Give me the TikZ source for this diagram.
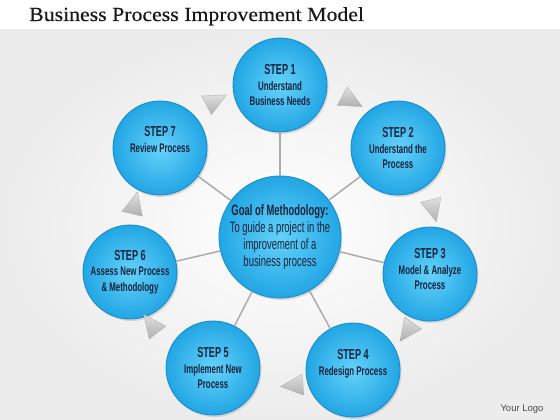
\documentclass[tikz,border=0pt]{standalone}
\usepackage{fontspec}
\setmainfont{Liberation Serif}
\newfontfamily\titlefont[FakeStretch=1.09,FakeBold=0.4]{Liberation Serif}
\newfontfamily\condA[FakeStretch=0.63]{Liberation Sans}
\newfontfamily\logofont{Liberation Sans}
\usetikzlibrary{shapes.geometric,shadows,calc}
\definecolor{navy}{RGB}{20,35,60}
\definecolor{cin}{RGB}{100,210,250}
\definecolor{cout}{RGB}{34,166,228}
\definecolor{cedge}{RGB}{22,138,205}
\newcommand\stephead[1]{{\fontsize{14.5}{16}\selectfont #1}}
\begin{document}
\begin{tikzpicture}[x=1pt,y=-1pt,
  stepnode/.style={circle, minimum size=94pt, inner sep=0pt, draw=cedge, line width=0.8pt,
    inner color=cin, outer color=cout,
    drop shadow={opacity=0.25, shadow xshift=1.5pt, shadow yshift=-2pt},
    align=center, text=navy, font=\condA\bfseries\fontsize{12.5}{15.5}\selectfont},
  goalnode/.style={stepnode, minimum size=122pt, font=\condA\fontsize{15}{17}\selectfont},
  spoke/.style={draw=gray!65, line width=1.5pt},
  arrtri/.style={isosceles triangle, isosceles triangle apex angle=50, inner sep=0pt,
    minimum size=21pt, draw=gray!60, top color=gray!25, bottom color=gray!62,
    sloped, allow upside down},
  titletext/.style={font=\titlefont\fontsize{20}{24}\selectfont, text=black!90},
  logotext/.style={font=\logofont\fontsize{9.5}{11}\selectfont, text=black!70}
]
\useasboundingbox (0,0) rectangle (560,420);
\fill[white] (0,0) rectangle (560,420);
\shade[inner color=white, outer color=gray!15] (0,30) rectangle (560,420);

\node[titletext, anchor=base west, inner sep=0pt] (title) at (29,21) {Business Process Improvement Model};
\node[logotext, anchor=base east] (logo) at (547,411) {Your Logo};

\node[goalnode] (goal) at (280,237) {\textbf{Goal of Methodology:}\\To guide a project in the\\improvement of a\\business process};

\node[stepnode] (s1) at (280,85)  {\stephead{STEP 1}\\Understand\\Business Needs};
\node[stepnode] (s2) at (398,148) {\stephead{STEP 2}\\Understand the\\Process};
\node[stepnode] (s3) at (430,274) {\stephead{STEP 3}\\Model \& Analyze\\Process\\[-6pt]\mbox{}};
\node[stepnode] (s4) at (353,370) {\stephead{STEP 4}\\Redesign Process\\[0pt]\mbox{}};
\node[stepnode] (s5) at (213,368) {\stephead{STEP 5}\\Implement New\\Process};
\node[stepnode] (s6) at (130,272) {\stephead{STEP 6}\\Assess New Process\\\& Methodology};
\node[stepnode] (s7) at (160,148) {\stephead{STEP 7}\\Review Process\\[2pt]\mbox{}};

\foreach \s in {s1,s2,s3,s4,s5,s6,s7}
  \draw[spoke] (goal) -- (\s);

\foreach \a/\b/\bnd/\p in {s1/s2/30/0.5, s2/s3/30/0.5, s3/s4/30/0.45, s4/s5/24/0.4,
                           s5/s6/30/0.55, s6/s7/18/0.5, s7/s1/24/0.5}
  \path (\a.center) to[bend left=\bnd] node[arrtri, pos=\p] {} (\b.center);
\end{tikzpicture}
\end{document}
